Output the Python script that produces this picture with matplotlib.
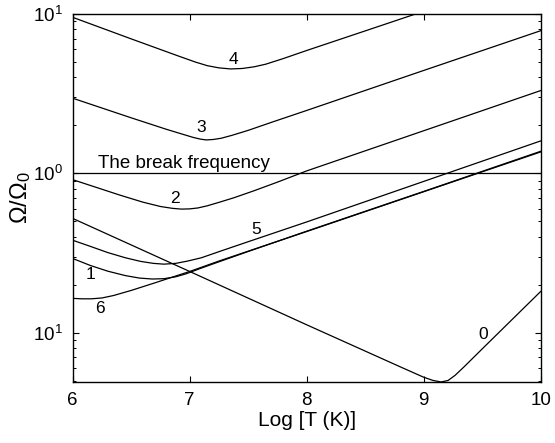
import matplotlib
matplotlib.use("Agg")
import matplotlib.pyplot as plt
from matplotlib.ticker import FixedLocator, LogLocator, NullFormatter

plt.rcParams['font.family'] = ['Liberation Sans', 'DejaVu Sans']
plt.rcParams['mathtext.fontset'] = 'custom'
plt.rcParams['mathtext.rm'] = 'Liberation Sans'
plt.rcParams['mathtext.it'] = 'Liberation Sans:italic'

# log10 temperature positions and Omega/Omega0 values
x0 = [6.0, 7.0, 8.0, 8.8, 9.0, 9.08, 9.15, 9.21, 9.27, 9.35, 9.5, 10.0]
y0 = [0.521, 0.242, 0.112, 0.0610, 0.0525, 0.0501, 0.0490, 0.0501, 0.0540, 0.0614, 0.0789, 0.181]

x1 = [6.0, 6.15, 6.3, 6.45, 6.57, 6.68, 6.78, 6.88, 6.97, 7.08, 7.2, 7.5, 8.0, 9.0, 10.0]
y1 = [0.292, 0.264, 0.243, 0.228, 0.220, 0.217, 0.218, 0.224, 0.234, 0.251, 0.270, 0.323, 0.433, 0.769, 1.374]

x2 = [6.0, 6.4, 6.6, 6.75, 6.85, 6.93, 7.0, 7.07, 7.15, 7.25, 7.38, 7.55, 7.75, 8.0, 9.0, 10.0]
y2 = [0.912, 0.731, 0.659, 0.619, 0.603, 0.596, 0.598, 0.606, 0.625, 0.657, 0.703, 0.777, 0.880, 1.035, 1.849, 3.304]

x3 = [6.0, 6.5, 6.8, 6.95, 7.03, 7.09, 7.14, 7.2, 7.27, 7.36, 7.5, 7.7, 8.0, 9.0, 10.0]
y3 = [2.96, 2.23, 1.89, 1.75, 1.68, 1.64, 1.62, 1.63, 1.66, 1.73, 1.86, 2.09, 2.48, 4.42, 7.85]

x4 = [6.0, 6.5, 6.9, 7.05, 7.15, 7.25, 7.35, 7.45, 7.55, 7.65, 7.8, 8.0, 8.5, 9.0]
y4 = [9.53, 6.98, 5.46, 4.99, 4.74, 4.59, 4.52, 4.55, 4.66, 4.84, 5.25, 5.90, 7.83, 10.4]

x5 = [6.0, 6.15, 6.3, 6.45, 6.58, 6.69, 6.78, 6.88, 6.98, 7.1, 7.26, 7.5, 8.0, 9.0, 10.0]
y5 = [0.380, 0.348, 0.318, 0.295, 0.280, 0.272, 0.269, 0.272, 0.281, 0.295, 0.324, 0.372, 0.495, 0.889, 1.596]

x6 = [6.0, 6.08, 6.16, 6.25, 6.35, 6.5, 6.7, 7.0, 7.26, 8.0, 9.0, 10.0]
y6 = [0.164, 0.163, 0.163, 0.165, 0.171, 0.184, 0.205, 0.242, 0.283, 0.431, 0.766, 1.361]

break_freq = 1.0

curve_labels = ['0', '1', '2', '3', '4', '5', '6']
label_x = [9.51, 6.15, 6.87, 7.10, 7.37, 7.57, 6.23]
label_y = [0.098, 0.230, 0.697, 1.93, 5.20, 0.445, 0.142]

ytick_vals = [0.1, 1.0, 10.0]
ytick_text = [r'$\mathregular{10^{1}}$', r'$\mathregular{10^{0}}$', r'$\mathregular{10^{1}}$']
xtick_vals = [6, 7, 8, 9, 10]

fig = plt.figure(figsize=(5.55, 4.43), dpi=100)
ax = fig.add_axes([0.131, 0.1377, 0.843, 0.8307])

for xs, ys in [(x0, y0), (x1, y1), (x2, y2), (x3, y3), (x4, y4), (x5, y5), (x6, y6)]:
    ax.plot(xs, ys, color='black', lw=0.9)

ax.axhline(break_freq, color='black', lw=0.9)
ax.text(6.22, 1.08, 'The break frequency', fontsize=13.5, ha='left', va='baseline')

for t, lx, ly in zip(curve_labels, label_x, label_y):
    ax.text(lx, ly, t, fontsize=12.5, ha='center', va='center')

ax.set_yscale('log')
ax.set_xlim(6, 10)
ax.set_ylim(10 ** -1.31, 10)
ax.set_xticks(xtick_vals)
ax.yaxis.set_major_locator(FixedLocator(ytick_vals))
ax.set_yticklabels(ytick_text)
ax.yaxis.set_minor_locator(LogLocator(base=10, subs=range(2, 10)))
ax.yaxis.set_minor_formatter(NullFormatter())

ax.tick_params(which='both', direction='in', top=True, right=True, labelsize=13.5)
ax.tick_params(which='major', length=4, width=0.8)
ax.tick_params(which='minor', length=2.5, width=0.7)
ax.tick_params(axis='x', pad=7)
ax.tick_params(axis='y', pad=7)
for s in ax.spines.values():
    s.set_linewidth(1.0)

ax.set_xlabel('Log [T (K)]', fontsize=15, labelpad=2)
ax.set_ylabel(r'$\mathregular{\Omega/\Omega_0}$', fontsize=17, labelpad=0)

fig.savefig('out.png', dpi=100)
